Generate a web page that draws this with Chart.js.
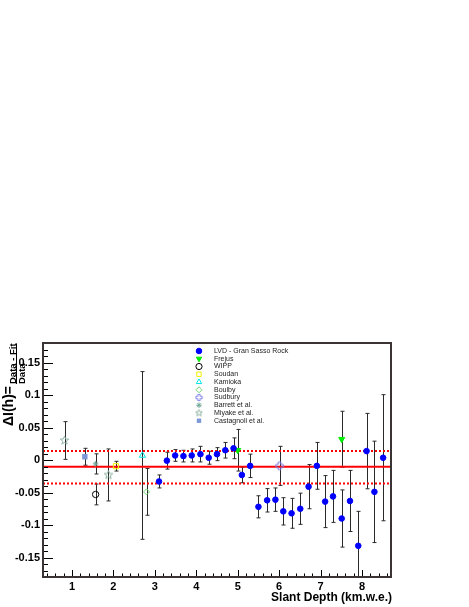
<!DOCTYPE html>
<html>
<head>
<meta charset="utf-8">
<script src="https://cdn.jsdelivr.net/npm/chart.js@4.4.1/dist/chart.umd.min.js"></script>
<style>
  html, body { margin: 0; padding: 0; background: #fff; }
  canvas { display: block; }
</style>
</head>
<body>
<canvas id="residChart" width="469" height="607"></canvas>
<script>
// slant depth (km.w.e.), relative residual (Data-Fit)/Data, error
const lvdDepth = [3.10, 3.29, 3.49, 3.69, 3.89, 4.10, 4.30, 4.50, 4.70, 4.90, 5.10, 5.30, 5.50, 5.71,
                  5.91, 6.10, 6.30, 6.51, 6.71, 6.91, 7.11, 7.30, 7.51, 7.71, 7.91, 8.11, 8.30, 8.51];
const lvdRes = [-0.033, -0.001, 0.007, 0.006, 0.007, 0.009, 0.0035, 0.009, 0.015, 0.018, -0.023, -0.009,
                -0.072, -0.062, -0.061, -0.079, -0.082, -0.075, -0.041, -0.009, -0.064, -0.056, -0.090,
                -0.063, -0.132, 0.0137, -0.049, 0.0035];
const lvdErr = [0.010, 0.013, 0.009, 0.009, 0.010, 0.012, 0.010, 0.010, 0.012, 0.016, 0.012, 0.018,
                0.017, 0.018, 0.018, 0.021, 0.023, 0.024, 0.034, 0.036, 0.040, 0.040, 0.044, 0.047,
                0.053, 0.058, 0.078, 0.097];

const frejusDepth = [5.00, 7.51];
const frejusRes = [0.015, 0.032];
const frejusErr = [0.032, 0.043];

const wippDepth = [1.57];
const wippRes = [-0.053];
const wippErr = [0.016];

const soudanDepth = [2.06];
const soudanRes = [-0.0095];
const soudanErr = [0.0075];

const kamiokaDepth = [2.70];
const kamiokaRes = [0.007];
const kamiokaErr = [0.129];

const boulbyDepth = [2.80];
const boulbyRes = [-0.049];
const boulbyErr = [0.036];

const sudburyDepth = [6.01];
const sudburyRes = [-0.009];
const sudburyErr = [0.030];

const barrettDepth = [1.57];
const barrettRes = [-0.006];
const barrettErr = [0.0155];

const miyakeDepth = [0.82, 1.88];
const miyakeRes = [0.030, -0.023];
const miyakeErr = [0.029, 0.040];

const castagnoliDepth = [1.31];
const castagnoliRes = [0.005];
const castagnoliErr = [0.013];

const fitLevel = -0.0105;
const fitBand = [0.0137, -0.036];

const xTicks = [1, 2, 3, 4, 5, 6, 7, 8];
const yTicks = [-0.15, -0.1, -0.05, 0, 0.05, 0.1, 0.15];
const xMin = 0.3, xMax = 8.7;
const yMin = -0.18, yMax = 0.18;

const tickFont = { family: '"Liberation Sans", Arial, sans-serif', size: 11, weight: 'bold' };

function pts(xs, ys) {
    return xs.map((x, i) => ({ x: x, y: ys[i] }));
}

function makeMarker(size, draw) {
    const c = document.createElement('canvas');
    c.width = size; c.height = size;
    draw(c.getContext('2d'), size / 2);
    return c;
}

// open star (Miyake)
function starMarker(size, ro, ri) {
    return makeMarker(size, (g, c) => {
        g.beginPath();
        for (let i = 0; i < 10; i++) {
            const r = i % 2 === 0 ? ro : ri;
            const a = -Math.PI / 2 + i * Math.PI / 5;
            g.lineTo(c + r * Math.cos(a), c + r * Math.sin(a));
        }
        g.closePath();
        g.strokeStyle = '#8fb3a2';
        g.lineWidth = 1;
        g.stroke();
    });
}

// open cross (Sudbury)
function crossMarker(size, a, b) {
    return makeMarker(size, (g, c) => {
        g.beginPath();
        g.moveTo(c - a, c - b); g.lineTo(c + a, c - b); g.lineTo(c + a, c - a);
        g.lineTo(c + b, c - a); g.lineTo(c + b, c + a); g.lineTo(c + a, c + a);
        g.lineTo(c + a, c + b); g.lineTo(c - a, c + b); g.lineTo(c - a, c + a);
        g.lineTo(c - b, c + a); g.lineTo(c - b, c - a); g.lineTo(c - a, c - a);
        g.closePath();
        g.strokeStyle = '#7b7bea';
        g.lineWidth = 1;
        g.stroke();
    });
}

const openStar = starMarker(11, 4.5, 1.9);
const openStarSmall = starMarker(9, 3.6, 1.5);
const openCross = crossMarker(11, 1.4, 3.7);
const openCrossSmall = crossMarker(9, 1.2, 3.1);

function series(label, xs, ys, errs, style) {
    return Object.assign({
        label: label,
        data: pts(xs, ys),
        errors: errs,
        isLegend: true,
        pointBorderWidth: 1,
        pointHoverRadius: 0
    }, style);
}

const datasets = [
    series('LVD - Gran Sasso Rock', lvdDepth, lvdRes, lvdErr,
        { pointStyle: 'circle', pointRadius: 2.8, pointBackgroundColor: '#0000ff', pointBorderColor: '#0000ff' }),
    series('Frejus', frejusDepth, frejusRes, frejusErr,
        { pointStyle: 'triangle', pointRotation: 180, pointRadius: 3.5, pointBackgroundColor: '#00ee00', pointBorderColor: '#00ee00' }),
    series('WIPP', wippDepth, wippRes, wippErr,
        { pointStyle: 'circle', pointRadius: 3.2, pointBackgroundColor: 'rgba(0,0,0,0)', pointBorderColor: '#000000' }),
    series('Soudan', soudanDepth, soudanRes, soudanErr,
        { pointStyle: 'rect', pointRadius: 3.6, pointBackgroundColor: 'rgba(0,0,0,0)', pointBorderColor: '#f2f200' }),
    series('Kamioka', kamiokaDepth, kamiokaRes, kamiokaErr,
        { pointStyle: 'triangle', pointRadius: 3.6, pointBackgroundColor: 'rgba(0,0,0,0)', pointBorderColor: '#00e5e5' }),
    series('Boulby', boulbyDepth, boulbyRes, boulbyErr,
        { pointStyle: 'rectRot', pointRadius: 3, pointBackgroundColor: 'rgba(0,0,0,0)', pointBorderColor: '#74d474' }),
    series('Sudbury', sudburyDepth, sudburyRes, sudburyErr,
        { pointStyle: openCross, legendStyle: openCrossSmall, pointRadius: 4, pointBackgroundColor: 'rgba(0,0,0,0)', pointBorderColor: '#7b7bea' }),
    series('Barrett et al.', barrettDepth, barrettRes, barrettErr,
        { pointStyle: 'star', pointRadius: 2.8, pointBackgroundColor: '#6fa796', pointBorderColor: '#6fa796' }),
    series('Miyake et al.', miyakeDepth, miyakeRes, miyakeErr,
        { pointStyle: openStar, legendStyle: openStarSmall, pointRadius: 4.5, pointBackgroundColor: 'rgba(0,0,0,0)', pointBorderColor: '#8fb3a2' }),
    series('Castagnoli et al.', castagnoliDepth, castagnoliRes, castagnoliErr,
        { pointStyle: 'rect', pointRadius: 3.8, pointBorderWidth: 0, pointBackgroundColor: '#7c98d6', pointBorderColor: '#7c98d6' }),
    {
        label: 'fit', data: [{ x: xMin, y: fitLevel }, { x: xMax, y: fitLevel }],
        showLine: true, borderColor: '#ff0000', borderWidth: 2, pointRadius: 0
    },
    {
        label: 'band+', data: [{ x: xMin, y: fitBand[0] }, { x: xMax, y: fitBand[0] }],
        showLine: true, borderColor: '#ff0000', borderWidth: 2, borderDash: [2, 2], pointRadius: 0
    },
    {
        label: 'band-', data: [{ x: xMin, y: fitBand[1] }, { x: xMax, y: fitBand[1] }],
        showLine: true, borderColor: '#ff0000', borderWidth: 2, borderDash: [2, 2], pointRadius: 0
    }
];

const errorBars = {
    id: 'errorBars',
    beforeDatasetsDraw(chart) {
        const { ctx, chartArea: a, scales: { x, y } } = chart;
        ctx.save();
        ctx.beginPath();
        ctx.rect(a.left, a.top, a.right - a.left, a.bottom - a.top);
        ctx.clip();
        ctx.strokeStyle = '#2a2a2a';
        ctx.lineWidth = 1;
        chart.data.datasets.forEach(ds => {
            if (!ds.errors) return;
            ds.data.forEach((p, i) => {
                const px = Math.round(x.getPixelForValue(p.x)) + 0.5;
                const top = y.getPixelForValue(p.y + ds.errors[i]);
                const bot = y.getPixelForValue(p.y - ds.errors[i]);
                ctx.beginPath();
                ctx.moveTo(px, top); ctx.lineTo(px, bot);
                ctx.moveTo(px - 2, top); ctx.lineTo(px + 2, top);
                ctx.moveTo(px - 2, bot); ctx.lineTo(px + 2, bot);
                ctx.stroke();
            });
        });
        ctx.restore();
    }
};

const frameAndText = {
    id: 'frameAndText',
    afterDraw(chart) {
        const { ctx, chartArea: a, scales: { x, y } } = chart;
        ctx.save();
        // inward ticks, ROOT style
        ctx.strokeStyle = '#000';
        ctx.lineWidth = 1;
        ctx.beginPath();
        for (let k = -18; k <= 18; k++) {
            const py = Math.round(y.getPixelForValue(k / 100)) + 0.5;
            const len = k % 5 === 0 ? 10 : 5;
            ctx.moveTo(a.left, py); ctx.lineTo(a.left + len, py);
        }
        for (let k = 2; k <= 43; k++) {
            const px = Math.round(x.getPixelForValue(k / 5)) + 0.5;
            const len = k % 5 === 0 ? 7 : 3.5;
            ctx.moveTo(px, a.bottom); ctx.lineTo(px, a.bottom - len);
        }
        ctx.stroke();

        ctx.strokeStyle = '#3b3434';
        ctx.lineWidth = 2;
        ctx.strokeRect(a.left, a.top, a.right - a.left, a.bottom - a.top);

        // x axis title
        ctx.fillStyle = '#000';
        ctx.font = 'bold 12px "Liberation Sans", Arial, sans-serif';
        ctx.textAlign = 'right';
        ctx.textBaseline = 'alphabetic';
        ctx.fillText('Slant Depth (km.w.e.)', a.right + 1, 601);

        // y axis title: ΔI(h) = (Data - Fit)/Data, rotated
        ctx.save();
        ctx.translate(12.5, 426);
        ctx.rotate(-Math.PI / 2);
        ctx.textAlign = 'left';
        ctx.font = 'bold 14px "Liberation Sans", Arial, sans-serif';
        ctx.fillText('ΔI(h)=', 0, 0);
        ctx.restore();

        ctx.save();
        ctx.translate(15.5, 384);
        ctx.rotate(-Math.PI / 2);
        ctx.textAlign = 'left';
        ctx.font = 'bold 9.5px "Liberation Sans", Arial, sans-serif';
        const numW = ctx.measureText('Data - Fit').width;
        ctx.fillText('Data - Fit', 0, 0);
        ctx.fillRect(0, 0.5, numW, 1);
        ctx.fillText('Data', 0, 9.5);
        ctx.restore();

        // legend
        const draw = Chart.helpers && Chart.helpers.drawPoint;
        ctx.font = '7px "Liberation Sans", Arial, sans-serif';
        ctx.textAlign = 'left';
        ctx.textBaseline = 'middle';
        let row = 0;
        chart.data.datasets.forEach(ds => {
            if (!ds.isLegend) return;
            const ly = 351 + row * 7.75;
            ctx.fillStyle = ds.pointBackgroundColor;
            ctx.strokeStyle = ds.pointBorderColor;
            ctx.lineWidth = ds.pointBorderWidth;
            if (draw) {
                draw(ctx, {
                    pointStyle: ds.legendStyle || ds.pointStyle,
                    rotation: ds.pointRotation || 0,
                    radius: Math.min(ds.pointRadius, 3.1),
                    borderWidth: ds.pointBorderWidth
                }, 199, ly);
            }
            ctx.fillStyle = '#222';
            ctx.fillText(ds.label, 214, ly);
            row++;
        });
        ctx.restore();
    }
};

new Chart(document.getElementById('residChart'), {
    type: 'scatter',
    data: { datasets: datasets },
    options: {
        responsive: false,
        animation: false,
        events: [],
        layout: { padding: { top: 343, right: 78, left: 0, bottom: 0 } },
        plugins: {
            legend: { display: false },
            tooltip: { enabled: false }
        },
        scales: {
            x: {
                type: 'linear',
                min: xMin, max: xMax,
                afterBuildTicks: s => { s.ticks = xTicks.map(v => ({ value: v })); },
                afterFit: s => { s.height = 30; },
                grid: { display: false, drawTicks: false },
                border: { display: false },
                ticks: {
                    color: '#000', font: tickFont, padding: 3,
                    maxRotation: 0, autoSkip: false,
                    callback: v => String(v)
                }
            },
            y: {
                type: 'linear',
                min: yMin, max: yMax,
                afterBuildTicks: s => { s.ticks = yTicks.map(v => ({ value: v })); },
                afterFit: s => { s.width = 43; },
                grid: { display: false, drawTicks: false },
                border: { display: false },
                ticks: {
                    color: '#000', font: tickFont, padding: 3,
                    autoSkip: false,
                    callback: v => String(Math.round(v * 100) / 100)
                }
            }
        }
    },
    plugins: [errorBars, frameAndText]
});
</script>
</body>
</html>
